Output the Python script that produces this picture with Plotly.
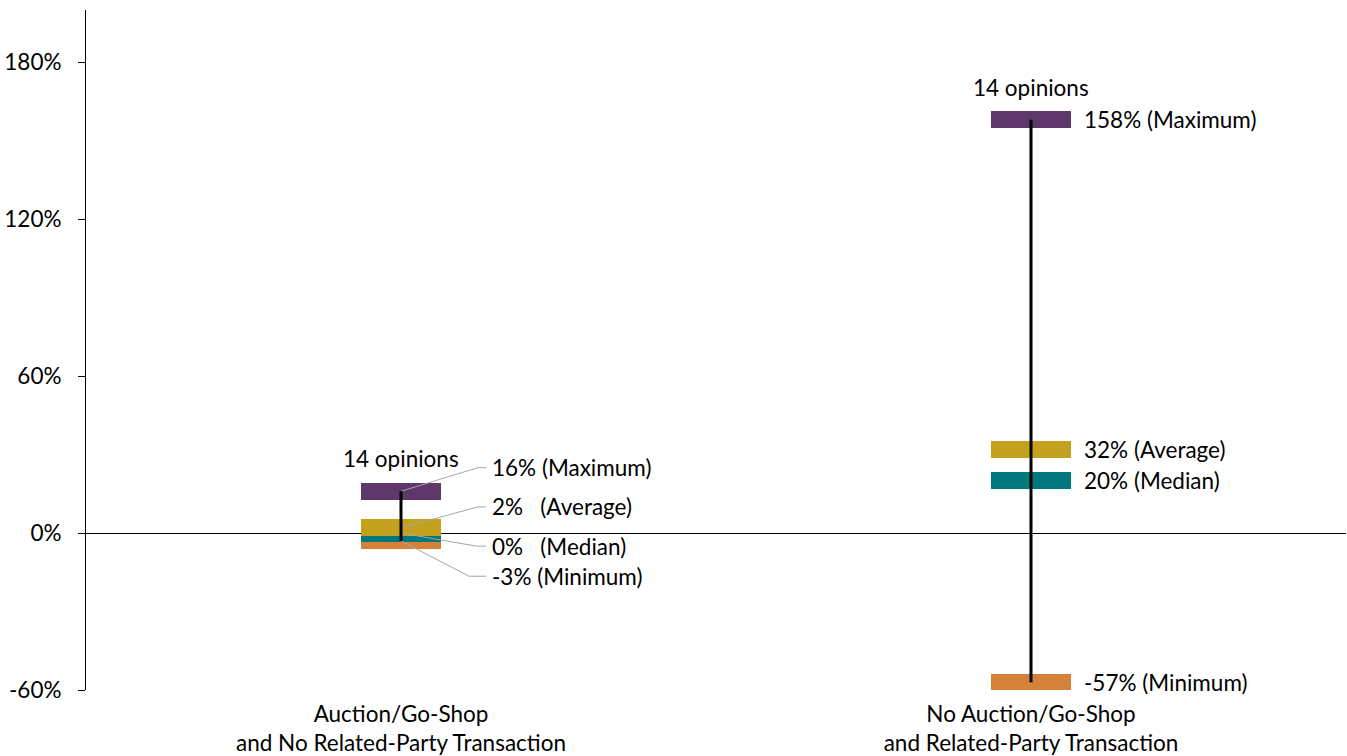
import plotly.graph_objects as go

# ---- data -------------------------------------------------------------
categories = [
    "Auction/Go-Shop<br>and No Related-Party Transaction",
    "No Auction/Go-Shop<br>and Related-Party Transaction",
]
maximum = [16, 158]
average = [2, 32]
median = [0, 20]
minimum = [-3, -57]
opinions = [14, 14]
y_ticks = [-60, 0, 60, 120, 180]
y_tick_labels = ["-60%", "0%", "60%", "120%", "180%"]

# ---- styling ----------------------------------------------------------
FONT = "Lato"
FS = 22.5
COL_MAX = "#5E376B"
COL_AVG = "#C3A11F"
COL_MED = "#00777C"
COL_MIN = "#D4823A"
LEADER = "#A6A6A6"
BAR_W = 0.128          # category units
BAR_H = 6.5            # thickness of each marker bar, in % units

xpos = list(range(len(categories)))

fig = go.Figure()

# stat bars, drawn bottom-up so later ones sit on top where they overlap
series = [
    ("Minimum", minimum, COL_MIN),
    ("Median", median, COL_MED),
    ("Average", average, COL_AVG),
    ("Maximum", maximum, COL_MAX),
]
for name, vals, col in series:
    fig.add_trace(go.Bar(
        x=xpos, y=[BAR_H] * len(vals), base=[v - BAR_H / 2 for v in vals],
        width=BAR_W, marker=dict(color=col, line=dict(width=0)),
        name=name, showlegend=False, hoverinfo="skip",
    ))

# label text for each stat
label_text = {
    "Maximum": ["16% (Maximum)", "158% (Maximum)"],
    "Average": ["2%\u00a0\u00a0\u00a0(Average)", "32%\u00a0(Average)"],
    "Median": ["0%\u00a0\u00a0\u00a0(Median)", "20%\u00a0(Median)"],
    "Minimum": ["-3% (Minimum)", "-57% (Minimum)"],
}
stat_vals = {"Maximum": maximum, "Average": average, "Median": median, "Minimum": minimum}

# first group: values are crowded, so labels are fanned out with leader lines
fan_y = {"Maximum": 25, "Average": 10, "Median": -5, "Minimum": -16.5}
elbow_x = {"Maximum": 0.122, "Average": 0.122, "Median": 0.12, "Minimum": 0.108}
for name in ["Maximum", "Average", "Median", "Minimum"]:
    v = stat_vals[name][0]
    ly = fan_y[name]
    fig.add_trace(go.Scatter(
        x=[xpos[0], xpos[0] + elbow_x[name], xpos[0] + 0.135],
        y=[v, ly, ly], mode="lines",
        line=dict(color=LEADER, width=1), showlegend=False, hoverinfo="skip",
    ))
    fig.add_annotation(
        x=xpos[0] + 0.141, y=ly, text=label_text[name][0], showarrow=False,
        xanchor="left", yanchor="middle", font=dict(family=FONT, size=FS, color="#000"),
    )

# second group: labels sit right beside each bar
for name in ["Maximum", "Average", "Median", "Minimum"]:
    v = stat_vals[name][1]
    fig.add_annotation(
        x=xpos[1] + 0.081, y=v, text=label_text[name][1], showarrow=False,
        xanchor="left", yanchor="middle", font=dict(family=FONT, size=FS, color="#000"),
    )

# range whiskers from minimum to maximum
for i in xpos:
    fig.add_trace(go.Scatter(
        x=[i, i], y=[minimum[i], maximum[i]], mode="lines",
        line=dict(color="#000", width=3), showlegend=False, hoverinfo="skip",
    ))

# opinion counts above each group
for i in xpos:
    fig.add_annotation(
        x=i, y=maximum[i], yshift=BAR_H / 2 * 2.615 + 24,
        text=f"{opinions[i]} opinions", showarrow=False,
        xanchor="center", yanchor="middle", font=dict(family=FONT, size=FS, color="#000"),
    )

fig.update_layout(
    width=1347, height=756,
    margin=dict(l=86, r=1, t=10, b=66),
    paper_bgcolor="white", plot_bgcolor="white",
    barmode="overlay", bargap=0,
    font=dict(family=FONT, size=FS, color="#000"),
    xaxis=dict(
        range=[-0.5, 1.5], tickvals=xpos, ticktext=categories,
        showgrid=False, zeroline=False, showline=False, ticks="",
        tickfont=dict(family=FONT, size=FS, color="#000"),
        ticklabelstandoff=8,
    ),
    yaxis=dict(
        range=[-60, 200], tickmode="array", tickvals=y_ticks, ticktext=y_tick_labels,
        showgrid=False, showline=True, linecolor="#000", linewidth=1,
        ticks="outside", ticklen=7, tickcolor="#000", tickwidth=1,
        zeroline=True, zerolinecolor="#000", zerolinewidth=1,
        tickfont=dict(family=FONT, size=FS, color="#000"),
        ticklabelstandoff=12,
    ),
)

fig.write_html("out.html")
